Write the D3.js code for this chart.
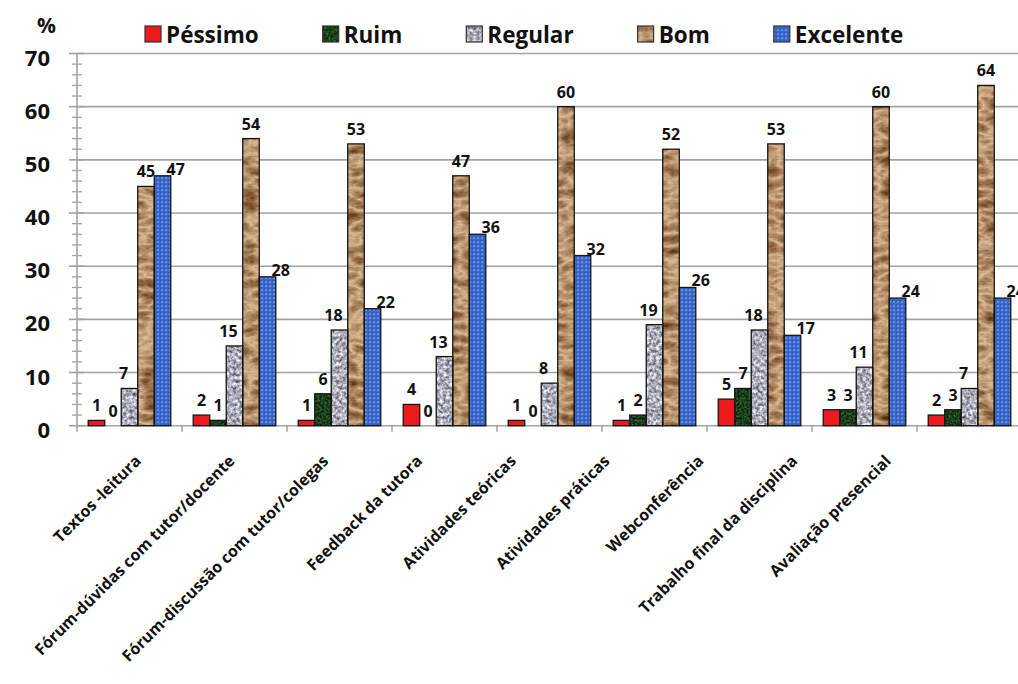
<!DOCTYPE html>
<html>
<head>
<meta charset="utf-8">
<script src="https://cdn.jsdelivr.net/npm/d3@7"></script>
<style>
  html, body { margin: 0; padding: 0; background: #fff; }
  svg { display: block; }
  text { font-family: "Open Sans", "Noto Sans", sans-serif; font-weight: 700; fill: #111; }
</style>
</head>
<body>
<svg id="chart" width="1018" height="684"></svg>
<script>
// ---------------- data ----------------
const categories = [
  "Textos -leitura",
  "Fórum-dúvidas com tutor/docente",
  "Fórum-discussão com tutor/colegas",
  "Feedback da tutora",
  "Atividades teóricas",
  "Atividades práticas",
  "Webconferência",
  "Trabalho final da disciplina",
  "Avaliação presencial"
];
const seriesNames = ["Péssimo", "Ruim", "Regular", "Bom", "Excelente"];
const pessimo   = [1, 2, 1, 4, 1, 1, 5, 3, 2];
const ruim      = [0, 1, 6, 0, 0, 2, 7, 3, 3];
const regular   = [7, 15, 18, 13, 8, 19, 18, 11, 7];
const bom       = [45, 54, 53, 47, 60, 52, 53, 60, 64];
const excelente = [47, 28, 22, 36, 32, 26, 17, 24, 24];
const yTicks = [0, 10, 20, 30, 40, 50, 60, 70];
const yUnit = "%";

const seriesValues = [pessimo, ruim, regular, bom, excelente];

// ---------------- layout ----------------
const W = 1018, H = 684;
const plot = { left: 77, right: 1022, top: 53.5, bottom: 425.7 };
const svg = d3.select("#chart");
svg.append("rect").attr("width", W).attr("height", H).attr("fill", "#fff");

const y = d3.scaleLinear().domain([0, 70]).range([plot.bottom, plot.top]);
const x0 = d3.scaleBand().domain(categories).range([plot.left, plot.right]);
const x1 = d3.scaleBand().domain(seriesNames).range([0, x0.bandwidth()]).paddingOuter(0.68);
const xLab = d3.scalePoint().domain(categories).range([142, 892]);

// ---------------- textures ----------------
const defs = svg.append("defs");
function noiseFilter(id, type, freq, oct, seed, matrix) {
  const f = defs.append("filter").attr("id", id)
    .attr("x", 0).attr("y", 0).attr("width", 1).attr("height", 1)
    .attr("color-interpolation-filters", "sRGB");
  f.append("feTurbulence").attr("type", type).attr("baseFrequency", freq)
    .attr("numOctaves", oct).attr("seed", seed).attr("result", "n");
  f.append("feColorMatrix").attr("in", "n").attr("type", "matrix").attr("values", matrix).attr("result", "c");
  f.append("feComposite").attr("in", "c").attr("in2", "SourceGraphic").attr("operator", "in");
}
noiseFilter("texGreen", "fractalNoise", "0.45", 3, 5,
  "0.30 0 0 0 -0.04  0.62 0 0 0 -0.06  0.30 0 0 0 -0.04  0 0 0 0 1");
noiseFilter("texGray", "fractalNoise", "0.3", 3, 7,
  "1.1 0 0 0 0.12  1.1 0 0 0 0.13  1.1 0 0 0 0.17  0 0 0 0 1");
noiseFilter("texBrown", "turbulence", "0.05 0.09", 3, 11,
  "-0.6 0 0 0 0.89  -0.68 0 0 0 0.77  -0.66 0 0 0 0.62  0 0 0 0 1");

const bluePat = defs.append("pattern").attr("id", "patBlue")
  .attr("patternUnits", "userSpaceOnUse").attr("width", 4).attr("height", 4);
bluePat.append("rect").attr("width", 4).attr("height", 4).attr("fill", "#3866cc");
bluePat.append("circle").attr("cx", 2).attr("cy", 2).attr("r", 0.85).attr("fill", "#93b2ea");
bluePat.append("rect").attr("x", 0).attr("y", 0).attr("width", 1).attr("height", 1).attr("fill", "#2a52ad");

const seriesStyle = {
  "Péssimo":   { fill: "#ec1a1d", filter: null },
  "Ruim":      { fill: "#1a4a1e", filter: "url(#texGreen)" },
  "Regular":   { fill: "#b5b8c0", filter: "url(#texGray)" },
  "Bom":       { fill: "#c8a27a", filter: "url(#texBrown)" },
  "Excelente": { fill: "url(#patBlue)", filter: null }
};

// ---------------- grid & axes ----------------
const axisColor = "#a3a3a3";
svg.append("g").selectAll("line").data(yTicks.filter(d => d > 0)).join("line")
  .attr("x1", plot.left).attr("x2", W)
  .attr("y1", d => y(d)).attr("y2", d => y(d))
  .attr("stroke", axisColor).attr("stroke-width", 1.6);

svg.append("line").attr("x1", plot.left).attr("x2", plot.left)
  .attr("y1", y(0)).attr("y2", y(70)).attr("stroke", axisColor).attr("stroke-width", 1.6);
svg.append("g").selectAll("line").data(d3.range(0, 71, 2).filter(d => d % 10 !== 0)).join("line")
  .attr("x1", plot.left - 5).attr("x2", plot.left + 5)
  .attr("y1", d => y(d)).attr("y2", d => y(d))
  .attr("stroke", axisColor).attr("stroke-width", 1.3);
svg.append("g").selectAll("line").data(yTicks).join("line")
  .attr("x1", plot.left - 8).attr("x2", plot.left + 7)
  .attr("y1", d => y(d)).attr("y2", d => y(d))
  .attr("stroke", axisColor).attr("stroke-width", 1.6);
svg.append("g").selectAll("text").data(yTicks).join("text")
  .attr("x", 50).attr("y", d => y(d) + 12)
  .attr("text-anchor", "end").style("font-size", "22px")
  .text(d => d);
svg.append("text").attr("x", 37).attr("y", 33).style("font-size", "21px").text(yUnit);

svg.append("line").attr("x1", plot.left).attr("x2", W)
  .attr("y1", y(0)).attr("y2", y(0)).attr("stroke", axisColor).attr("stroke-width", 1.6);
svg.append("g").selectAll("line").data(categories).join("line")
  .attr("x1", d => x0(d)).attr("x2", d => x0(d))
  .attr("y1", y(0)).attr("y2", y(0) + 6)
  .attr("stroke", axisColor).attr("stroke-width", 1.5);

// ---------------- bars ----------------
const barData = [];
categories.forEach((c, i) => {
  seriesNames.forEach((s, j) => {
    barData.push({ cat: c, ser: s, val: seriesValues[j][i] });
  });
});

const bars = svg.append("g");
bars.selectAll("rect.fillbar").data(barData.filter(d => d.val > 0)).join("rect")
  .attr("class", "fillbar")
  .attr("x", d => x0(d.cat) + x1(d.ser))
  .attr("y", d => y(d.val))
  .attr("width", x1.bandwidth())
  .attr("height", d => y(0) - y(d.val))
  .attr("fill", d => seriesStyle[d.ser].fill)
  .attr("filter", d => seriesStyle[d.ser].filter);
bars.selectAll("rect.outline").data(barData.filter(d => d.val > 0)).join("rect")
  .attr("class", "outline")
  .attr("x", d => x0(d.cat) + x1(d.ser))
  .attr("y", d => y(d.val))
  .attr("width", x1.bandwidth())
  .attr("height", d => y(0) - y(d.val))
  .attr("fill", "none").attr("stroke", "#151515").attr("stroke-width", 1.3);

// ---------------- data labels ----------------
function labelX(d) {
  const c = x0(d.cat) + x1(d.ser) + x1.bandwidth() / 2;
  if (d.ser === "Excelente") return c + 4;
  if (d.ser === "Regular") return c - 6;
  return c;
}
svg.append("g").selectAll("text").data(barData).join("text")
  .attr("x", labelX)
  .attr("y", d => d.ser === "Excelente" ? y(d.val) - 1 : y(d.val) - 9)
  .attr("text-anchor", d => d.ser === "Excelente" ? "start" : "middle")
  .style("font-size", "16px")
  .text(d => d.val);

// ---------------- category labels ----------------
svg.append("g").selectAll("text").data(categories).join("text")
  .attr("transform", d => `translate(${xLab(d)},462) rotate(-45)`)
  .attr("text-anchor", "end")
  .style("font-size", "16px")
  .text(d => d);

// ---------------- legend ----------------
const legend = svg.append("g");
let lx = 145;
seriesNames.forEach(s => {
  const g = legend.append("g");
  g.append("rect").attr("x", lx).attr("y", 26).attr("width", 16).attr("height", 16)
    .attr("fill", seriesStyle[s].fill).attr("filter", seriesStyle[s].filter);
  g.append("rect").attr("x", lx).attr("y", 26).attr("width", 16).attr("height", 16)
    .attr("fill", "none").attr("stroke", "#333").attr("stroke-width", 1.2);
  const t = g.append("text").attr("x", lx + 21).attr("y", 43).style("font-size", "22.5px").text(s);
  lx = lx + 21 + t.node().getComputedTextLength() + 64;
});
</script>
</body>
</html>
